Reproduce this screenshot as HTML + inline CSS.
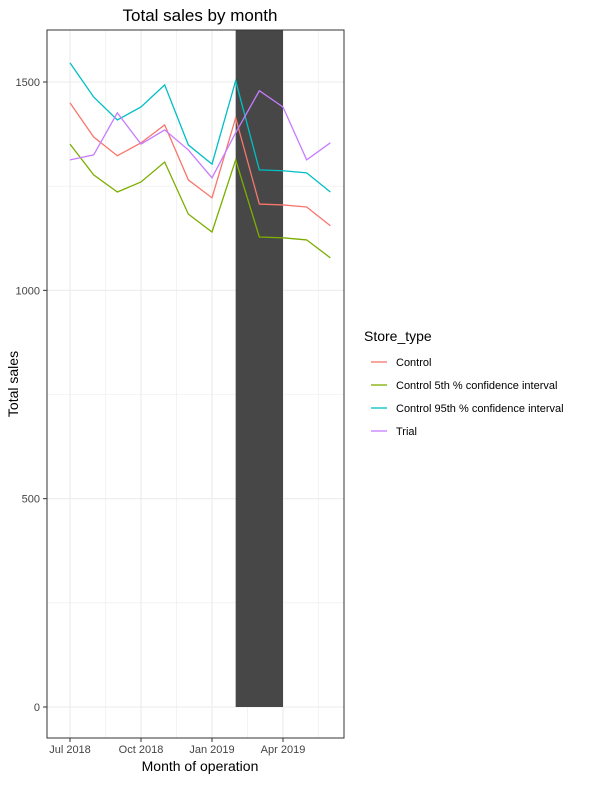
<!DOCTYPE html>
<html><head><meta charset="utf-8"><style>
body{margin:0;background:#fff;font-family:"Liberation Sans",sans-serif}
</style></head><body>
<svg width="589" height="781" xmlns="http://www.w3.org/2000/svg" id="chart">
<text x="200" y="21" font-size="17" text-anchor="middle">Total sales by month</text>
<g id="grid"></g>
<g id="plot"></g>
<rect x="47" y="30" width="297" height="708" fill="none" stroke="#333" stroke-width="1"/>
<g id="axes" font-size="11" fill="#444"></g>
<text x="200" y="771" font-size="14" text-anchor="middle">Month of operation</text>
<text transform="translate(18,384) rotate(-90)" font-size="14" text-anchor="middle">Total sales</text>
<g id="legend"></g>
</svg>
<script>
const months=["Jul 2018","Aug 2018","Sep 2018","Oct 2018","Nov 2018","Dec 2018","Jan 2019","Feb 2019","Mar 2019","Apr 2019","May 2019","Jun 2019"];
const control=[1450,1368,1323,1354,1397,1265,1222,1414,1207,1205,1200,1155];
const ci5=[1351,1277,1236,1260,1308,1183,1140,1313,1128,1126,1121,1078];
const ci95=[1546,1464,1409,1440,1493,1349,1303,1503,1289,1287,1282,1236];
const trial=[1313,1325,1426,1351,1385,1337,1270,1378,1479,1440,1313,1354];
const yTicks=[0,500,1000,1500];
const xTickIdx=[0,3,6,9];
const trialStart=7, trialEnd=9;
const NS="http://www.w3.org/2000/svg";
const X=i=>70+i*(283-70)/9;
const Y=v=>707-v*(707-82)/1500;
function mk(t,a,p){const e=document.createElementNS(NS,t);for(const k in a)e.setAttribute(k,a[k]);p.appendChild(e);return e;}
const grid=document.getElementById('grid'),plot=document.getElementById('plot'),axes=document.getElementById('axes'),leg=document.getElementById('legend');
for(let v=0;v<=1500;v+=250){const l=mk('line',{x1:47,x2:344,y1:Y(v),y2:Y(v),stroke:'#ebebeb','stroke-width':v%500?0.6:1.1},grid);

}
for(let i=0;i<=10.5;i+=1.5){const l=mk('line',{x1:X(i),x2:X(i),y1:30,y2:738,stroke:'#ebebeb','stroke-width':(i%3===0)?1.1:0.6},grid);

}
const r=mk('rect',{x:X(trialStart),y:30,width:X(trialEnd)-X(trialStart),height:Y(0)-30,fill:'#474747'},plot);


const series=[["control",control,"#F8766D","Control"],["ci5",ci5,"#7CAE00","Control 5th % confidence interval"],["ci95",ci95,"#00BFC4","Control 95th % confidence interval"],["trial",trial,"#C77CFF","Trial"]];
series.forEach(([n,d,c,lab],k)=>{
const p=mk('polyline',{points:d.map((v,i)=>X(i)+','+Y(v)).join(' '),fill:'none',stroke:c,'stroke-width':1.3},plot);


const g=mk('g',{},leg);


const y=362+k*23;
mk('line',{x1:371,x2:387,y1:y,y2:y,stroke:c,'stroke-width':1.3},g);
const t=mk('text',{x:396,y:y+4,'font-size':11},g);t.textContent=lab;
});
const lt=mk('text',{x:364,y:341,'font-size':14},leg);lt.textContent="Store_type";


yTicks.forEach(v=>{mk('line',{x1:43,x2:47,y1:Y(v),y2:Y(v),stroke:'#333'},axes);
const t=mk('text',{x:40,y:Y(v)+4,'text-anchor':'end'},axes);t.textContent=v;

});
xTickIdx.forEach(i=>{mk('line',{x1:X(i),x2:X(i),y1:738,y2:742,stroke:'#333'},axes);
const t=mk('text',{x:X(i),y:753,'text-anchor':'middle'},axes);t.textContent=months[i];

});
</script>
</body></html>
